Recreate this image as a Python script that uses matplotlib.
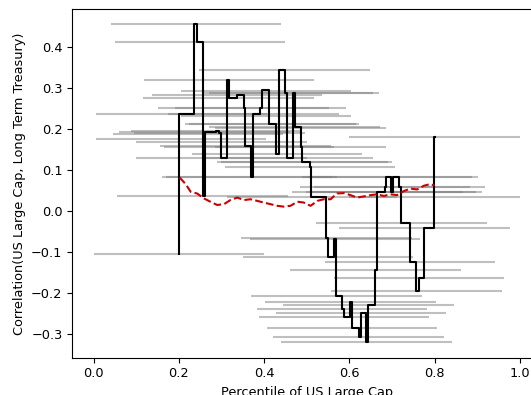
import matplotlib
matplotlib.use("Agg")
import matplotlib.pyplot as plt
import numpy as np

# percentile window centre and correlation of each sample
win_center = [0.240, 0.250, 0.448, 0.318, 0.405, 0.455, 0.470, 0.337, 0.317,
              0.352, 0.392, 0.206, 0.375, 0.405, 0.415, 0.472, 0.260, 0.288,
              0.205, 0.800, 0.295, 0.357, 0.486, 0.430, 0.300, 0.455, 0.490,
              0.508, 0.371, 0.688, 0.702, 0.684, 0.718, 0.666, 0.698, 0.256,
              0.800, 0.512, 0.722, 0.776, 0.546, 0.566, 0.200, 0.550, 0.742,
              0.661, 0.763, 0.757, 0.570, 0.603, 0.645, 0.583, 0.627, 0.587,
              0.606, 0.622, 0.640,
              0.423, 0.485, 0.245, 0.300, 0.365, 0.500, 0.360, 0.710]
win_corr = [0.455, 0.411, 0.344, 0.320, 0.292, 0.287, 0.287, 0.282, 0.276,
            0.250, 0.250, 0.236, 0.236, 0.232, 0.211, 0.203, 0.192, 0.195,
            0.176, 0.179, 0.190, 0.159, 0.156, 0.138, 0.128, 0.128, 0.120,
            0.106, 0.083, 0.083, 0.083, 0.057, 0.057, 0.046, 0.046, 0.037,
            0.033, 0.033, -0.029, -0.043, -0.067, -0.069, -0.106, -0.114, -0.126,
            -0.145, -0.165, -0.195, -0.207, -0.223, -0.229, -0.240, -0.250, -0.260,
            -0.285, -0.309, -0.319,
            0.211, 0.202, 0.187, 0.168, 0.156, 0.118, 0.083, 0.046]
half_width = 0.2

# rolling correlation (step) and its smoothed mean
step_x = [0.200, 0.2005, 0.235, 0.2416, 0.2556, 0.2603, 0.2877, 0.294, 0.2986,
          0.3135, 0.3174, 0.337, 0.3525, 0.3564, 0.3705, 0.3744, 0.3916, 0.3955,
          0.411, 0.4284, 0.4346, 0.4487, 0.4534, 0.469, 0.472, 0.486, 0.4893,
          0.5073, 0.5112, 0.5456, 0.5495, 0.565, 0.569, 0.583, 0.587, 0.6026,
          0.6065, 0.622, 0.6269, 0.6394, 0.6448, 0.6612, 0.6659, 0.6831, 0.6863,
          0.698, 0.7019, 0.7175, 0.7222, 0.7417, 0.7574, 0.7628, 0.776, 0.798,
          0.800]
step_y = [-0.106, 0.236, 0.455, 0.411, 0.037, 0.192, 0.195, 0.190, 0.128,
          0.320, 0.276, 0.282, 0.250, 0.159, 0.083, 0.236, 0.250, 0.294,
          0.211, 0.138, 0.344, 0.287, 0.128, 0.287, 0.203, 0.156, 0.120,
          0.106, 0.033, -0.067, -0.114, -0.069, -0.207, -0.240, -0.260, -0.223,
          -0.285, -0.309, -0.250, -0.319, -0.229, -0.145, 0.046, 0.057, 0.083,
          0.046, 0.083, 0.057, -0.029, -0.126, -0.195, -0.165, -0.043, 0.179,
          0.179]

mean_x = [0.202, 0.216, 0.228, 0.243, 0.259, 0.274, 0.290, 0.306, 0.321, 0.337,
          0.353, 0.368, 0.384, 0.399, 0.415, 0.431, 0.446, 0.462, 0.478, 0.493,
          0.509, 0.525, 0.540, 0.556, 0.571, 0.587, 0.603, 0.618, 0.634, 0.650,
          0.665, 0.681, 0.696, 0.712, 0.728, 0.743, 0.759, 0.775, 0.790, 0.800]
mean_y = [0.081, 0.065, 0.046, 0.042, 0.030, 0.022, 0.014, 0.016, 0.026, 0.032,
          0.026, 0.028, 0.024, 0.020, 0.016, 0.012, 0.010, 0.012, 0.022, 0.020,
          0.012, 0.024, 0.028, 0.028, 0.042, 0.043, 0.038, 0.032, 0.035, 0.038,
          0.040, 0.036, 0.040, 0.038, 0.048, 0.054, 0.052, 0.061, 0.065, 0.061]

plt.rcParams['font.size'] = 9.3

fig = plt.figure(figsize=(5.31, 3.95), dpi=100)
ax = fig.add_axes([0.136, 0.0944, 0.8832, 0.8828])

c = np.array(win_center)
lo = np.clip(c - half_width, 0, 1)
hi = np.clip(c + half_width, 0, 1)
ax.hlines(win_corr, lo, hi, color='gray', alpha=0.5, lw=1.5)

ax.plot(step_x, step_y, color='black', lw=1.5, drawstyle='steps-post')
ax.plot(mean_x, mean_y, color='#cc0000', lw=1.5, ls='--')

ax.set_xlim(-0.05, 1.05)
ax.set_ylim(-0.3585, 0.492)
ax.set_xlabel("Percentile of US Large Cap")
ax.set_ylabel("Correlation(US Large Cap, Long Term Treasury)")

fig.savefig('out.png', dpi=100)
